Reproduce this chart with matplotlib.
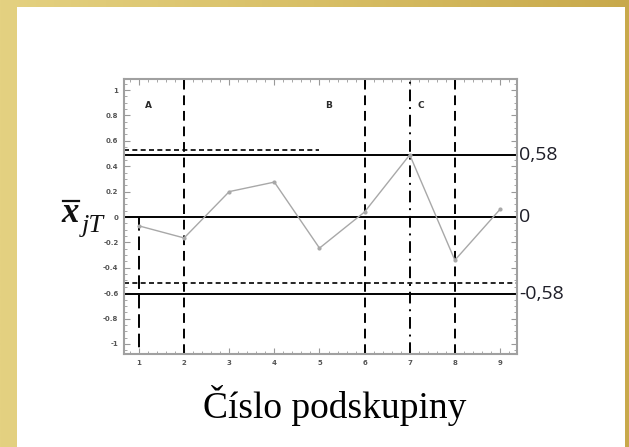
import numpy as np
import matplotlib
matplotlib.use('Agg')
import matplotlib.pyplot as plt
from matplotlib.patches import Rectangle
from matplotlib.lines import Line2D
from matplotlib.ticker import MultipleLocator

# subgroup means
subgroups = [1, 2, 3, 4, 5, 6, 7, 8, 9]
means = [-0.07, -0.165, 0.2, 0.275, -0.245, 0.04, 0.49, -0.34, 0.06]

# control limits
ucl = 0.49
center = 0.0
lcl = -0.605
ucl_old = 0.53
lcl_old = -0.52
limit_labels = ['0,58', '0', '-0,58']

# phase boundaries and labels
dashed_x = [2, 6, 8]
dashdot_x = [7]
phase_names = ['A', 'B', 'C']
phase_pos = [1.2, 5.2, 7.25]

fig = plt.figure(figsize=(6.29, 4.47), dpi=100)

# gold frame with a left-to-right gradient
bg = fig.add_axes([0, 0, 1, 1], zorder=-10)
grad = np.linspace(0, 1, 256)[None, :]
cmap = matplotlib.colors.LinearSegmentedColormap.from_list('gold', ['#e4d181', '#d8bf66', '#c8a94b'])
bg.imshow(grad, aspect='auto', cmap=cmap, extent=[0, 1, 0, 1])
bg.add_patch(Rectangle((17 / 629, 0), (625 - 17) / 629, 1 - 7 / 447, color='white', lw=0))
bg.set_xlim(0, 1)
bg.set_ylim(0, 1)
bg.axis('off')

ax = fig.add_axes([124 / 629, 1 - 354 / 447, 393 / 629, 275 / 447])
ax.set_xlim(0.668, 9.377)
ax.set_ylim(-1.079, 1.087)

for v in [ucl, center, lcl]:
    ax.axhline(v, color='black', lw=1.4, zorder=2)
ax.plot([0.668, 5.0], [ucl_old, ucl_old], color='black', lw=1.2, dashes=(3, 2), zorder=2)
ax.axhline(lcl_old, color='black', lw=1.2, dashes=(3, 2), zorder=2)

for xv in dashed_x:
    ax.axvline(xv, color='black', lw=1.4, dashes=(5, 3), zorder=2)
for xv in dashdot_x:
    ax.axvline(xv, color='black', lw=1.4, dashes=(6, 3, 1, 3), zorder=2)
ax.plot([1, 1], [center, -1.079], color='black', lw=1.4, dashes=(7, 3), zorder=2)

ax.plot(subgroups, means, color='#a8a8a8', lw=1.0, marker='o', ms=2, zorder=3)

for name, xp in zip(phase_names, phase_pos):
    ax.text(xp, 0.88, name, fontsize=6.5, fontweight='bold', color='#2a2a2a',
            ha='center', va='center')

ax.xaxis.set_minor_locator(MultipleLocator(0.2))
ax.yaxis.set_minor_locator(MultipleLocator(0.05))
ax.tick_params(which='both', direction='in', top=True, right=True, color='#999999')
ax.tick_params(which='major', length=4, width=0.8, labelsize=5, labelcolor='#555555', pad=4)
ax.tick_params(which='minor', length=2, width=0.6)
ax.set_yticks(np.arange(-1, 1.01, 0.2))
ax.set_yticklabels(['-1', '-0.8', '-0.6', '-0.4', '-0.2', '0', '0.2', '0.4', '0.6', '0.8', '1'],
                   fontweight='bold')
ax.set_xticks(subgroups)
ax.set_xticklabels([str(s) for s in subgroups], fontweight='bold')
for sp in ax.spines.values():
    sp.set_color('#a0a0a0')
    sp.set_linewidth(1.5)

# limit values on the right
for v, lab in zip([ucl, center, lcl], limit_labels):
    ax.text(1.005, v, lab, transform=ax.get_yaxis_transform(), fontsize=14,
            family='Open Sans', color='#1e1e28', ha='left', va='center')

# y-axis title: x with an overbar, subscript jT
fig.text(70 / 629, 1 - 214 / 447, 'x', fontsize=25, family='Liberation Serif',
         style='italic', fontweight='bold', color='#111111', ha='center', va='center')
fig.add_artist(Line2D([63 / 629, 79 / 629], [1 - 201 / 447, 1 - 201 / 447],
                      color='#111111', lw=1.6, transform=fig.transFigure))
fig.text(82 / 629, 1 - 226 / 447, 'jT', fontsize=19, family='Liberation Serif',
         style='italic', color='#111111', ha='left', va='center')
fig.text(335 / 629, 1 - 406 / 447, 'Číslo podskupiny', fontsize=27,
         family='Liberation Serif', color='black', ha='center', va='center')

fig.savefig('out.png', dpi=100)
